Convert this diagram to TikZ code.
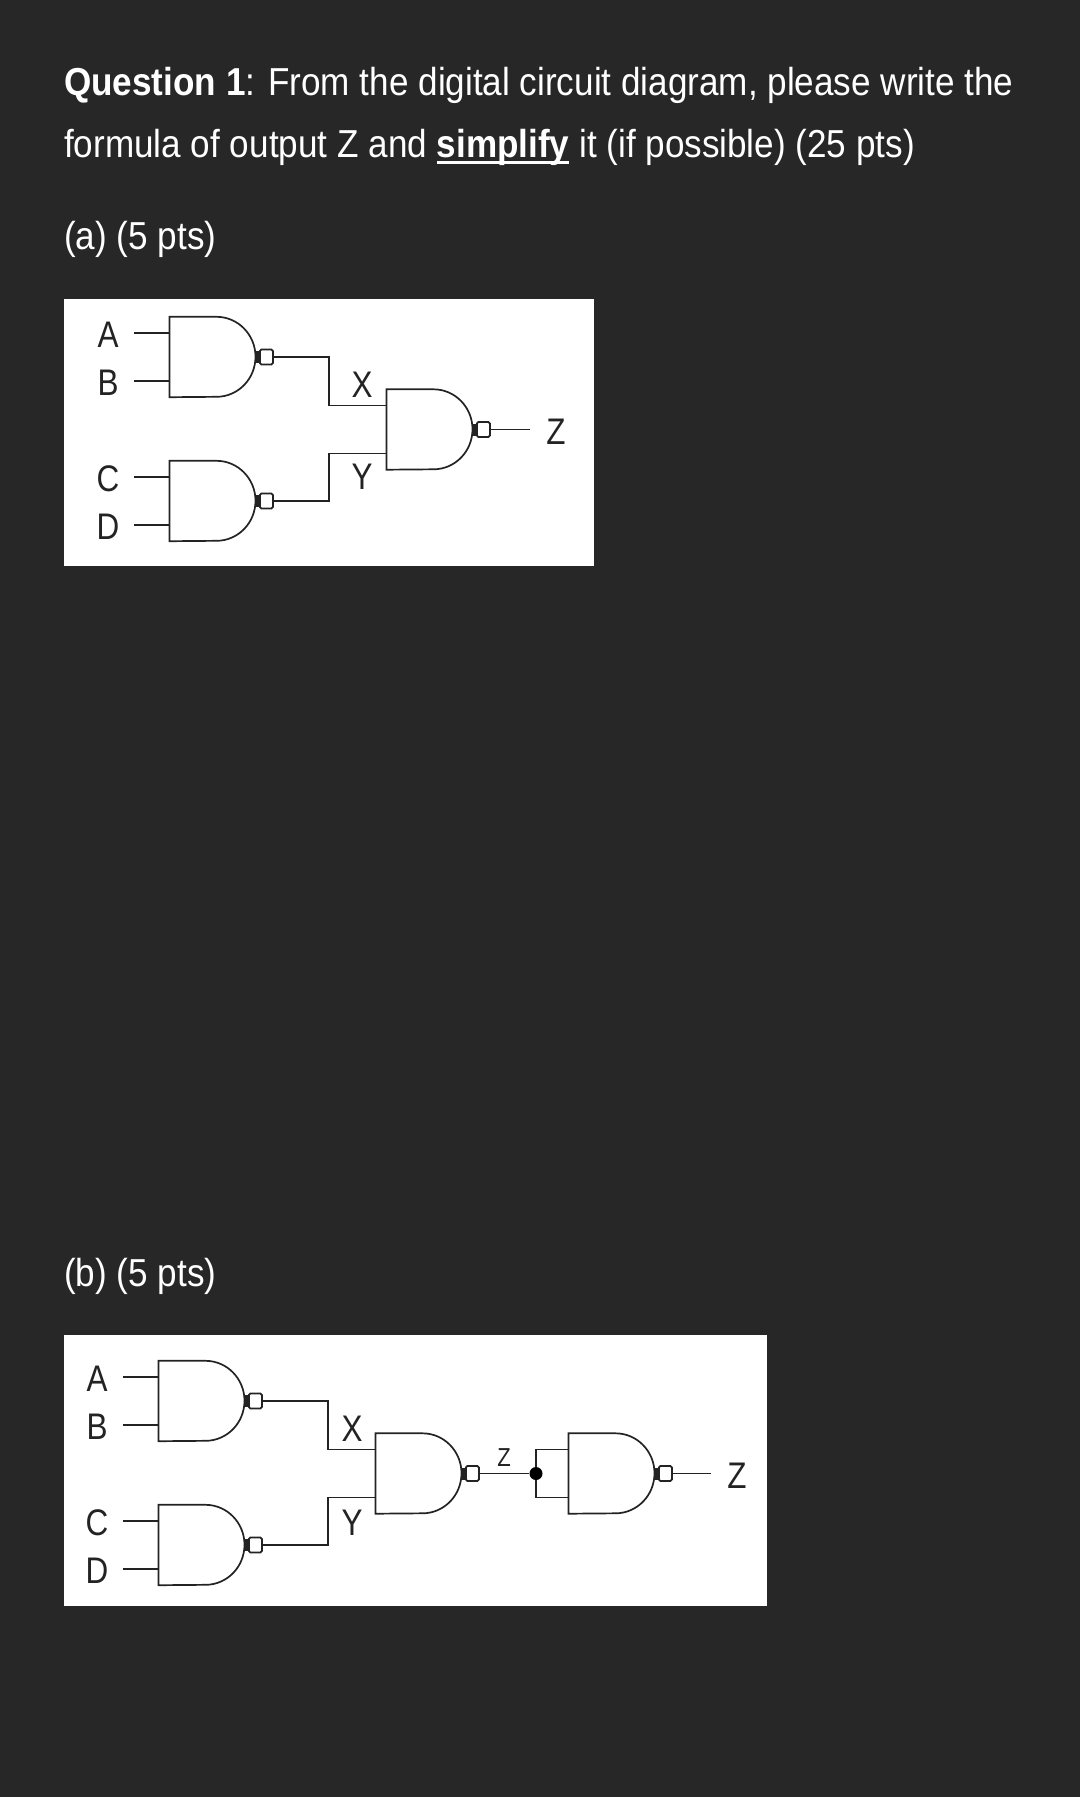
\documentclass[tikz,border=0pt]{standalone}
\usepackage{fontspec}
\setmainfont[FakeStretch=0.9]{Liberation Sans}
\newfontfamily\labelfont[FakeStretch=0.85]{Liberation Sans}
\usepackage{tikz}
\definecolor{pagebg}{RGB}{39,39,39}
\definecolor{wirecol}{RGB}{35,35,35}
\newcommand{\thickuline}[1]{\setbox0=\hbox{#1}\rlap{\rule[-7pt]{\wd0}{3pt}}\box0\relax}

\begin{document}
\begin{tikzpicture}[
x=1pt,y=-1pt,
wire/.style={draw=wirecol,line width=1.7pt},
nandbox/.style={
  minimum width=103pt,
  minimum height=80pt,
  inner sep=0pt,
  anchor=west,
  append after command={\pgfextra{
    \draw[wire,fill=white] (\tikzlastnode.north west) -- ++(47,0)
      arc[start angle=-90,end angle=90,x radius=39,y radius=40]
      -- (\tikzlastnode.south west) -- cycle;
    \draw[wire,rounded corners=1.5pt] ([shift={(-13,-7.5)}]\tikzlastnode.east) rectangle ([shift={(0,7.5)}]\tikzlastnode.east);
    \draw[wire,line width=3pt] ([shift={(-15.5,-6)}]\tikzlastnode.east) -- ([shift={(-15.5,6)}]\tikzlastnode.east);
    }}
  },
inlabel/.style={font=\labelfont\fontsize{37}{37}\selectfont,text=wirecol,inner sep=0pt,minimum width=52pt,text height=29pt},
sigabel/.style={font=\labelfont\fontsize{37}{37}\selectfont,text=wirecol,inner sep=0pt},
qtext/.style={font=\fontsize{39}{39}\selectfont,text=white,inner sep=0pt,anchor=base west}
]
\useasboundingbox (0,0) rectangle (1080,1797);
\fill[pagebg] (0,0) rectangle (1080,1797);

\node[qtext] (line1) at (64,95) {\textbf{Question 1}: From the digital circuit diagram, please write the};
\node[qtext] (line2) at (64,157) {formula of output Z and \thickuline{\textbf{simplify}} it (if possible) (25 pts)};
\node[qtext] (parta) at (64,249) {(a) (5 pts)};
\node[qtext] (partb) at (64,1286) {(b) (5 pts)};

% circuit (a)
\fill[white] (64,299) rectangle (594,566);
\node[nandbox] (a1) at (169.5,357) {};
\node[nandbox] (a2) at (169.5,501) {};
\node[nandbox] (a3) at (386.5,429.5) {};
\node[inlabel] (aA) at (108,333) {A};
\node[inlabel] (aB) at (108,381) {B};
\node[inlabel] (aC) at (108,477) {C};
\node[inlabel] (aD) at (108,525) {D};
\node[sigabel] (aX) at (362,385) {X};
\node[sigabel] (aY) at (362,477) {Y};
\node[inlabel] (aZ) at (556,429.5) {Z};
\path[wire]
	(aA.east) -- ([yshift=24pt]a1.west)
	(aB.east) -- ([yshift=-24pt]a1.west)
	(aC.east) -- ([yshift=24pt]a2.west)
	(aD.east) -- ([yshift=-24pt]a2.west)
	(a1.east) -- ++(56,0) |- ([yshift=24pt]a3.west)
	(a2.east) -- ++(56,0) |- ([yshift=-24pt]a3.west)
	(a3.east) -- (aZ.west);

% circuit (b)
\fill[white] (64,1335) rectangle (767,1606);
\node[nandbox] (b1) at (158.5,1401) {};
\node[nandbox] (b2) at (158.5,1545) {};
\node[nandbox] (b3) at (375.5,1473.5) {};
\node[nandbox] (b4) at (568.5,1473.5) {};
\node[inlabel] (bA) at (97,1377) {A};
\node[inlabel] (bB) at (97,1425) {B};
\node[inlabel] (bC) at (97,1521) {C};
\node[inlabel] (bD) at (97,1569) {D};
\node[sigabel] (bX) at (352,1429) {X};
\node[sigabel] (bY) at (352,1523) {Y};
\node[sigabel,font=\labelfont\fontsize{26}{26}\selectfont] (bz) at (504,1458) {Z};
\node[inlabel] (bZ) at (737,1473.5) {Z};
\node[circle,fill=black,inner sep=0pt,minimum size=13pt] (bdot) at (536,1473.5) {};
\path[wire]
	(bA.east) -- ([yshift=24pt]b1.west)
	(bB.east) -- ([yshift=-24pt]b1.west)
	(bC.east) -- ([yshift=24pt]b2.west)
	(bD.east) -- ([yshift=-24pt]b2.west)
	(b1.east) -- ++(66,0) |- ([yshift=24pt]b3.west)
	(b2.east) -- ++(66,0) |- ([yshift=-24pt]b3.west)
	(b3.east) -- (bdot)
	(bdot) |- ([yshift=24pt]b4.west)
	(bdot) |- ([yshift=-24pt]b4.west)
	(b4.east) -- (bZ.west);
\end{tikzpicture}
\end{document}
